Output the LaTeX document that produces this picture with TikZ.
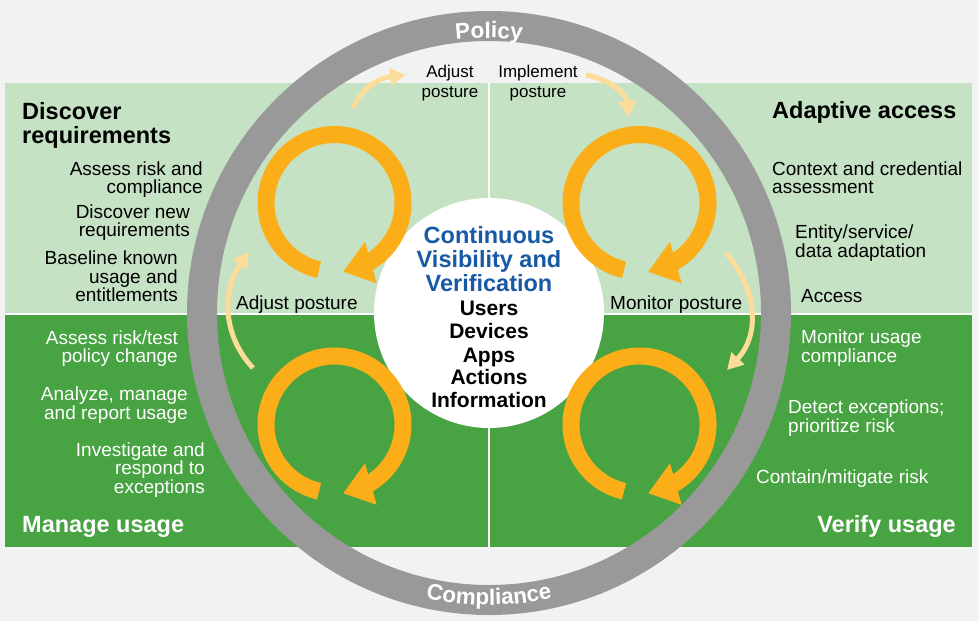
\documentclass[tikz,border=0pt]{standalone}
\usepackage{fontspec}
\setmainfont{Liberation Sans}
\newfontfamily\ringfam[LetterSpace=3]{Liberation Sans}
\usetikzlibrary{arrows.meta,decorations.text}

\definecolor{bg}{RGB}{241,243,242}
\definecolor{lgreen}{RGB}{197,226,196}
\definecolor{dgreen}{RGB}{72,163,66}
\definecolor{ringgray}{RGB}{153,153,153}
\definecolor{orng}{RGB}{251,174,24}
\definecolor{pale}{RGB}{253,220,153}
\definecolor{cblue}{RGB}{24,89,165}

\newcommand\fReg{\fontsize{19}{19}\selectfont}
\newcommand\fBig{\fontsize{23.5}{24}\selectfont\bfseries}
\newcommand\fCen{\fontsize{21}{23}\selectfont\bfseries}
\newcommand\fSm{\fontsize{17}{20}\selectfont}
\newcommand\fRing{\ringfam\fontsize{22.5}{22.5}\selectfont\bfseries\color{white}}

\tikzset{
  reg/.style={inner sep=0pt,font=\fReg},
  big/.style={inner sep=0pt,font=\fBig},
  cen/.style={inner sep=0pt,font=\fCen,anchor=base},
  bluet/.style={inner sep=0pt,font=\fBig,anchor=base,text=cblue},
  sm/.style={inner sep=0pt,font=\fSm,anchor=base},
  wt/.style={text=white},
  paleline/.style={draw=pale,line width=5pt,-{Triangle[length=16pt,width=17pt]}},
  cyc/.pic={
    \draw[orng,line width=17pt] (103:68.5) arc[start angle=103,end angle=421,radius=68.5];
    \fill[orng] (51.8:49.3) -- (62.3:90.7) -- (82.7:69.3) -- cycle;
  }
}

\begin{document}
\begin{tikzpicture}[x=1pt,y=-1pt]
\useasboundingbox[fill=bg] (0,0) rectangle (979,621);

% panels
\fill[lgreen] (5,83) rectangle (972,313.5);
\fill[dgreen] (5,315) rectangle (972,547);
\draw[white,line width=2pt] (489,83) -- (489,547);
\draw[white,line width=2pt] (5,314.2) -- (972,314.2);

% ring
\draw[ringgray,line width=30pt] (489,313) circle[radius=287];

% hub
\node[circle,fill=white,minimum size=230pt,inner sep=0pt] (hub) at (489,313) {};

% pale arrows
\coordinate (pa1s) at (353,108); \coordinate (pa1e) at (406,75);
\draw[paleline] (pa1s) .. controls (362,88) and (378,78) .. (pa1e);
\coordinate (pa2s) at (586,75); \coordinate (pa2e) at (629,117);
\draw[paleline] (pa2s) .. controls (606,78) and (626,92) .. (pa2e);
\coordinate (pa3s) at (253,368); \coordinate (pa3e) at (249,252);
\draw[paleline] (pa3s) .. controls (222,335) and (222,290) .. (pa3e);
\coordinate (pa4s) at (726,253); \coordinate (pa4e) at (727,370);
\draw[paleline] (pa4s) .. controls (758,290) and (760,335) .. (pa4e);

% orange cycles
\pic at (334.5,203) {cyc};
\pic at (639.5,203) {cyc};
\pic at (334.5,424.5) {cyc};
\pic at (639.5,424.5) {cyc};

% ring texts
\path[decorate,decoration={text along path,text align=center,text={|\fRing|Policy}}]
  (489,313) ++(-125:275) arc[start angle=-125,end angle=-55,radius=275];
\path[decorate,decoration={text along path,text align=center,text={|\fRing|Compliance}}]
  (489,313) ++(115:292) arc[start angle=115,end angle=65,radius=292];

% top-left panel
\node[big,anchor=base west] (dr1) at (22,119) {Discover};
\node[big,anchor=base west] (dr2) at (22,143) {requirements};
\node[reg,anchor=base east] (a1) at (203,175) {Assess risk and};
\node[reg,anchor=base east] (a2) at (203,193) {compliance};
\node[reg,anchor=base east] (a3) at (190,218) {Discover new};
\node[reg,anchor=base east] (a4) at (190,236) {requirements};
\node[reg,anchor=base east] (a5) at (178,264) {Baseline known};
\node[reg,anchor=base east] (a6) at (178,283) {usage and};
\node[reg,anchor=base east] (a7) at (178,301) {entitlements};
\node[reg,anchor=base west] (adjl) at (236,309) {Adjust posture};
\node[sm] (adjt1) at (450,77) {Adjust};
\node[sm] (adjt2) at (450,97) {posture};
\node[sm] (imp1) at (538,77) {Implement};
\node[sm] (imp2) at (538,97) {posture};

% top-right panel
\node[big,anchor=base west] (aa) at (772,118) {Adaptive access};
\node[reg,anchor=base west] (b1) at (772,175) {Context and credential};
\node[reg,anchor=base west] (b2) at (772,193) {assessment};
\node[reg,anchor=base west] (b3) at (795,238) {Entity/service/};
\node[reg,anchor=base west] (b4) at (795,257) {data adaptation};
\node[reg,anchor=base west] (b5) at (801,302) {Access};
\node[reg,anchor=base west] (monp) at (610,309) {Monitor posture};

% bottom-left panel
\node[reg,wt,anchor=base east] (c1) at (178,344) {Assess risk/test};
\node[reg,wt,anchor=base east] (c2) at (178,362) {policy change};
\node[reg,wt,anchor=base east] (c3) at (188,400) {Analyze, manage};
\node[reg,wt,anchor=base east] (c4) at (188,419) {and report usage};
\node[reg,wt,anchor=base east] (c5) at (205,456) {Investigate and};
\node[reg,wt,anchor=base east] (c6) at (205,474) {respond to};
\node[reg,wt,anchor=base east] (c7) at (205,493) {exceptions};
\node[big,wt,anchor=base west] (mu) at (22,532) {Manage usage};

% bottom-right panel
\node[reg,wt,anchor=base west] (d1) at (801,343) {Monitor usage};
\node[reg,wt,anchor=base west] (d2) at (801,362) {compliance};
\node[reg,wt,anchor=base west] (d3) at (788,413) {Detect exceptions;};
\node[reg,wt,anchor=base west] (d4) at (788,432) {prioritize risk};
\node[reg,wt,anchor=base west] (d5) at (756,483) {Contain/mitigate risk};
\node[big,wt,anchor=base east] (vu) at (956,532) {Verify usage};

% hub texts
\node[bluet] (h1) at (489,243) {Continuous};
\node[bluet] (h2) at (489,267) {Visibility and};
\node[bluet] (h3) at (489,291) {Verification};
\node[cen] (h4) at (489,315) {Users};
\node[cen] (h5) at (489,338) {Devices};
\node[cen] (h6) at (489,362) {Apps};
\node[cen] (h7) at (489,384) {Actions};
\node[cen] (h8) at (489,407) {Information};
\end{tikzpicture}
\end{document}
